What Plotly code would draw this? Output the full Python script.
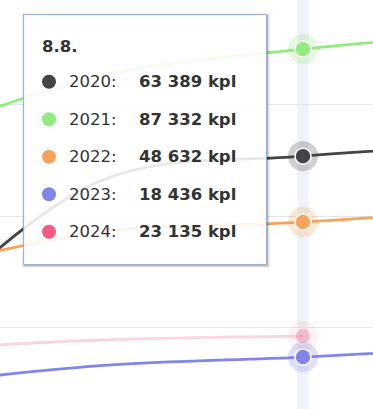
import plotly.graph_objects as go

# ---- data ----
days = ["6.8.", "7.8.", "8.8.", "9.8."]
years = ["2020", "2021", "2022", "2023", "2024"]
v2020 = [21500, 57800, 63389, 65900]
v2021 = [66000, 81300, 87332, 91300]
v2022 = [36800, 46400, 48632, 51800]
v2023 = [11800, 16500, 18436, 20800]
v2024 = [19800, 22250, 23135]
colors = ["#434348", "#90ed7d", "#f7a35c", "#8085e9", "#f15c80"]
faded_years = ["2024"]
hover_index = 2
unit = "kpl"

series = [v2020, v2021, v2022, v2023, v2024]

W, H = 373, 409


def px(x):
    return x / W


def py(y):
    return 1 - y / H


def rgba(hexc, a):
    h = hexc.lstrip("#")
    r, g, b = int(h[0:2], 16), int(h[2:4], 16), int(h[4:6], 16)
    return f"rgba({r},{g},{b},{a})"


fig = go.Figure()

# lines
for yr, vals, col in zip(years, series, colors):
    op = 0.25 if yr in faded_years else 1.0
    fig.add_trace(go.Scatter(
        x=list(range(len(vals))), y=vals, mode="lines",
        line=dict(color=col, width=2.8, shape="spline", smoothing=1),
        opacity=op, hoverinfo="skip", showlegend=False))

# hover markers (halo + marker)
for yr, vals, col in zip(years, series, colors):
    op = 0.3 if yr in faded_years else 1.0
    fig.add_trace(go.Scatter(
        x=[hover_index], y=[vals[hover_index]], mode="markers",
        marker=dict(size=30, color=rgba(col, 0.25), line=dict(width=0)),
        opacity=op, hoverinfo="skip", showlegend=False))
    fig.add_trace(go.Scatter(
        x=[hover_index], y=[vals[hover_index]], mode="markers",
        marker=dict(size=16, color=col, line=dict(width=1.5, color="white")),
        opacity=op, hoverinfo="skip", showlegend=False))

shapes = []
# crosshair band
shapes.append(dict(type="line", xref="x", yref="paper", x0=hover_index, x1=hover_index,
                   y0=0, y1=1, line=dict(color="#eff2f9", width=11), layer="below"))

# tooltip box
L, R, T, B = 23.5, 266.5, 14.5, 264.5
for w, a in [(5, 0.05), (3, 0.1), (1, 0.15)]:
    shapes.append(dict(type="rect", xref="paper", yref="paper",
                       x0=px(L + 1), x1=px(R + 1), y0=py(B + 1), y1=py(T + 1),
                       line=dict(color=f"rgba(0,0,0,{a})", width=w),
                       fillcolor="rgba(0,0,0,0)", layer="above"))
shapes.append(dict(type="rect", xref="paper", yref="paper",
                   x0=px(L), x1=px(R), y0=py(B), y1=py(T),
                   line=dict(color="#95b1d6", width=1),
                   fillcolor="rgba(255,255,255,0.88)", layer="above"))

annotations = []
font = "DejaVu Sans"
annotations.append(dict(xref="paper", yref="paper", x=px(40), y=py(46.5),
                        xanchor="left", yanchor="middle", showarrow=False,
                        text=f"<b>{days[hover_index]}</b>",
                        font=dict(family=font, size=16.5, color="#333333")))

row_y0, row_dy = 81.7, 37.5
for i, (yr, vals, col) in enumerate(zip(years, series, colors)):
    cy = row_y0 + i * row_dy
    r = 7
    shapes.append(dict(type="circle", xref="paper", yref="paper",
                       x0=px(49 - r), x1=px(49 + r), y0=py(cy + r), y1=py(cy - r),
                       fillcolor=col, line=dict(width=0), layer="above"))
    annotations.append(dict(xref="paper", yref="paper", x=px(66.5), y=py(cy),
                            xanchor="left", yanchor="middle", showarrow=False,
                            text=f"{yr}:",
                            font=dict(family=font, size=16.5, color="#333333")))
    val = f"{vals[hover_index]:,}".replace(",", " ")
    annotations.append(dict(xref="paper", yref="paper", x=px(137), y=py(cy),
                            xanchor="left", yanchor="middle", showarrow=False,
                            text=f"<b>{val} {unit}</b>",
                            font=dict(family=font, size=16.5, color="#333333")))

fig.update_layout(
    width=W, height=H,
    margin=dict(l=0, r=0, t=0, b=0),
    paper_bgcolor="white", plot_bgcolor="white",
    showlegend=False, hovermode=False,
    xaxis=dict(range=[1 - 100 / 203, 2 + 70 / 203], visible=False, fixedrange=True),
    yaxis=dict(range=[6804, 98344], tick0=0, dtick=25000, showgrid=True,
               gridcolor="#e6e6e6", gridwidth=1, showticklabels=False,
               zeroline=False, showline=False, ticks="", fixedrange=True),
    shapes=shapes, annotations=annotations,
)

fig.write_html("out.html", config={"displayModeBar": False},
               post_script="document.body.style.margin='0';document.body.style.overflow='hidden';")
